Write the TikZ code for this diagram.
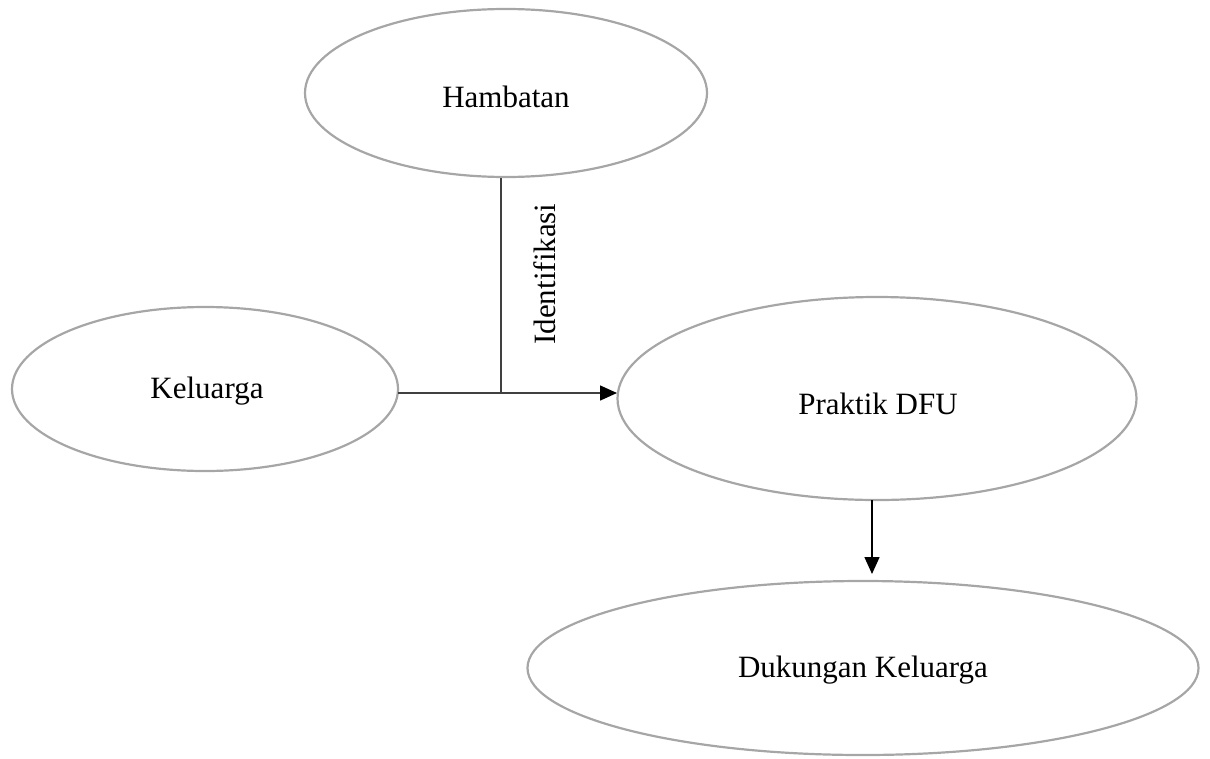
\documentclass[tikz,border=0pt]{standalone}
\usepackage{fontspec}
\setmainfont{Liberation Serif}
\usetikzlibrary{shapes.geometric,arrows.meta}
\begin{document}
\begin{tikzpicture}[x=1pt,y=-1pt,
  oval/.style={draw=black!35, line width=2.2pt, ellipse, inner sep=0pt},
  lbl/.style={font=\fontsize{31}{36}\selectfont},
  conn/.style={line width=1.5pt, draw=black!75},
  tip/.style={-{Triangle[length=17pt,width=15pt,fill=black,color=black]}}]
\useasboundingbox (0,0) rectangle (1210,758);
\node[oval, minimum width=402pt, minimum height=168pt] (hamb) at (506,93) {};
\node[lbl] at (506,97) {Hambatan};
\node[oval, minimum width=386pt, minimum height=164pt] (kel) at (205,389) {};
\node[lbl] at (207,391) {Keluarga};
\node[oval, minimum width=519pt, minimum height=203pt] (prak) at (877,398.5) {};
\node[lbl] at (878,404) {Praktik DFU};
\node[oval, minimum width=671pt, minimum height=174pt] (duk) at (863,668) {};
\node[lbl] at (863,670) {Dukungan Keluarga};
\coordinate (j) at (501,393);
\coordinate (ks) at (398,393);
\coordinate (pe) at (617,393);
\coordinate (ht) at (501,178);
\draw[conn] (ht) -- (j);
\draw[conn, tip] (ks) -- (pe);
\node[lbl, rotate=90] (idf) at (545,274) {Identifikasi};
\coordinate (ps) at (872,500);
\coordinate (de) at (872,574);
\draw[conn, draw=black, tip] (ps) -- (de);
\end{tikzpicture}
\end{document}
